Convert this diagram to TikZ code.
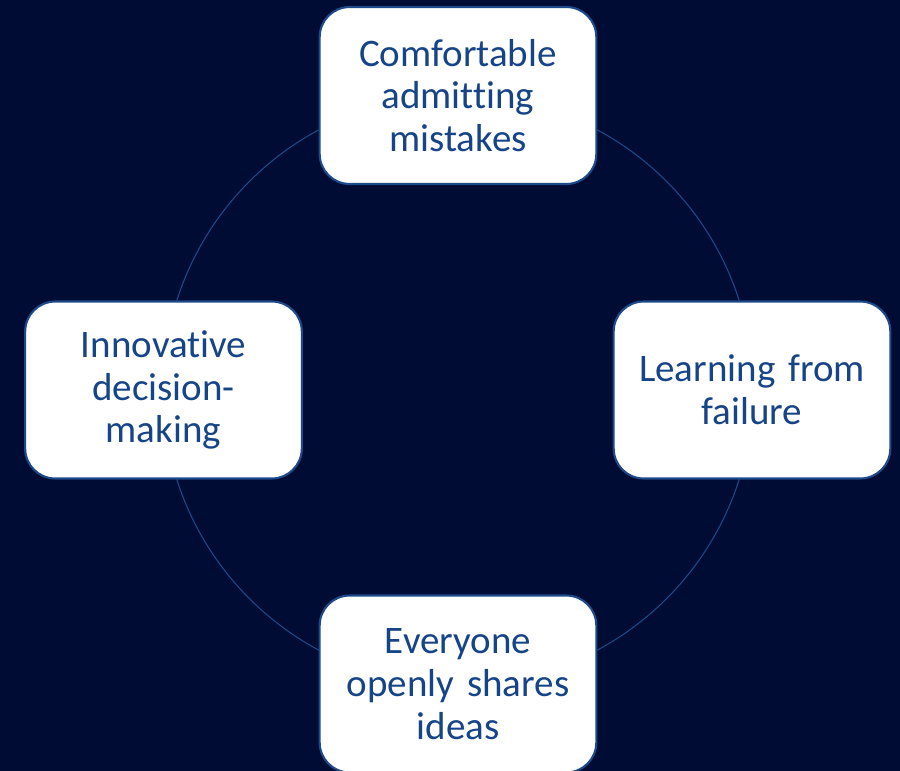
\documentclass[tikz,border=0pt]{standalone}
\usepackage{fontspec}
\setmainfont{Carlito}[Ligatures=NoCommon]
\usepackage{xcolor}
\definecolor{navybg}{RGB}{0,12,51}
\definecolor{ringblue}{RGB}{28,74,138}
\definecolor{textblue}{RGB}{22,68,135}

\begin{document}
\begin{tikzpicture}[x=0.02cm, y=-0.02cm,
	stagebox/.style={draw=ringblue, line width=1.2pt, fill=white, rounded corners=0.6cm,
		minimum width=5.5cm, minimum height=3.54cm, text width=5.3cm, align=center,
		text=textblue, font=\fontsize{22.2}{24.4}\selectfont}]
	
	% Parameters
	\def\cx{458}
	\def\cy{390}
	\def\ringradius{295}
	
	% background
	\fill[navybg] (0,0) rectangle (900,771);
	\useasboundingbox (0,0) rectangle (900,771);
	
	% ring
	\coordinate (centre) at (\cx,\cy);
	\draw[ringblue, line width=0.6pt] (centre) circle [radius=\ringradius*0.02cm];
	
	% stages
	\node[stagebox] (admit) at (\cx,95.5) {Comfortable\\admitting\\mistakes};
	\node[stagebox] (learn) at (752,\cy) {Learning from\\failure};
	\node[stagebox] (share) at (\cx,684) {Everyone\\openly shares\\ideas};
	\node[stagebox] (innov) at (163.5,\cy) {Innovative\\decision-\\making};
	
\end{tikzpicture}
\end{document}
